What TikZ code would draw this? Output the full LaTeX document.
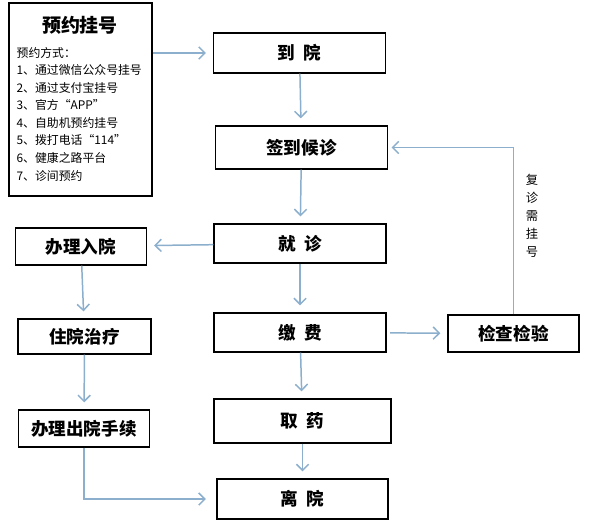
\documentclass[tikz,border=0pt]{standalone}
\usepackage{fontspec}
\setmainfont{Noto Sans CJK SC}
\usetikzlibrary{arrows.meta,positioning}
\definecolor{flowblue}{RGB}{140,175,205}
\tikzset{every picture/.style={line width=0.75pt}}

\begin{document}
\begin{tikzpicture}[
    x=0.02cm, y=-0.02cm,
    box/.style={draw,line width=0.7pt,minimum width=3.44cm,minimum height=0.8cm,inner sep=0pt,font=\fontsize{10}{12}\selectfont\bfseries},
    sidebox/.style={box,minimum width=2.62cm,minimum height=0.72cm},
    flow/.style={-{Straight Barb[length=3.5pt,width=7pt]},flowblue,line width=0.85pt,shorten >=4pt}
]
    \useasboundingbox (0,0) rectangle (596,524);

    % Booking box
    \node[draw,line width=0.7pt,minimum width=2.86cm,minimum height=3.86cm] (yuyue) at (80.5,99.5) {};
    \node[font=\fontsize{10.8}{13}\selectfont\bfseries] (yuyuetitle) at (80,25) {预约挂号};
    \node[anchor=west,align=left,inner sep=0pt,font=\fontsize{6.75}{10}\selectfont] (yuyuelist) at (16,114) {预约方式：\\1、通过微信公众号挂号\\2、通过支付宝挂号\\3、官方“APP”\\4、自助机预约挂号\\5、拨打电话“114”\\6、健康之路平台\\7、诊间预约};

    % Main column
    \node[box] (daoyuan) at (299.5,53) {到\enspace 院};
    \node[box,minimum height=0.86cm] (qiandao) at (301.5,147.5) {签到候诊};
    \node[box,minimum height=0.78cm] (jiuzhen) at (300,243.5) {就\enspace 诊};
    \node[box,minimum height=0.78cm] (jiaofei) at (300,332.5) {缴\enspace 费};
    \node[box,minimum width=3.54cm,minimum height=0.88cm] (quyao) at (302.5,421) {取\enspace 药};
    \node[box,minimum width=3.42cm] (liyuan) at (302.5,499) {离\enspace 院};

    % Examination
    \node[sidebox,minimum height=0.74cm] (jiancha) at (513.5,333.5) {检查检验};

    % Inpatient column
    \node[sidebox,minimum height=0.74cm] (ruyuan) at (81,246.5) {办理入院};
    \node[sidebox,minimum width=2.66cm,minimum height=0.7cm] (zhuyuan) at (84.5,336.5) {住院治疗};
    \node[sidebox,minimum height=0.74cm] (chuyuan) at (84,428.5) {办理出院手续};

    % Arrows
    \draw[flow] (yuyue.east |- daoyuan.west) -- (daoyuan.west);
    \draw[flow] (daoyuan) -- (qiandao);
    \draw[flow] (qiandao) -- (jiuzhen);
    \draw[flow] (jiuzhen) -- (jiaofei);
    \draw[flow] (jiaofei) -- (quyao);
    \draw[flow] (quyao) -- (liyuan);
    \draw[flow] (jiuzhen) -- (ruyuan);
    \draw[flow] (ruyuan) -- (zhuyuan);
    \draw[flow] (zhuyuan) -- (chuyuan);
    \draw[flow,shorten >=6pt] (chuyuan.south) |- (liyuan.west);
    \draw[flow,shorten <=2pt] (jiaofei) -- (jiancha);
    \draw[flow,shorten >=2pt] (jiancha.north) |- (qiandao.east);

    % Return visit note
    \node[align=center,font=\fontsize{7}{10.3}\selectfont] (fuzhen) at (532,216) {复\\诊\\需\\挂\\号};
\end{tikzpicture}
\end{document}
